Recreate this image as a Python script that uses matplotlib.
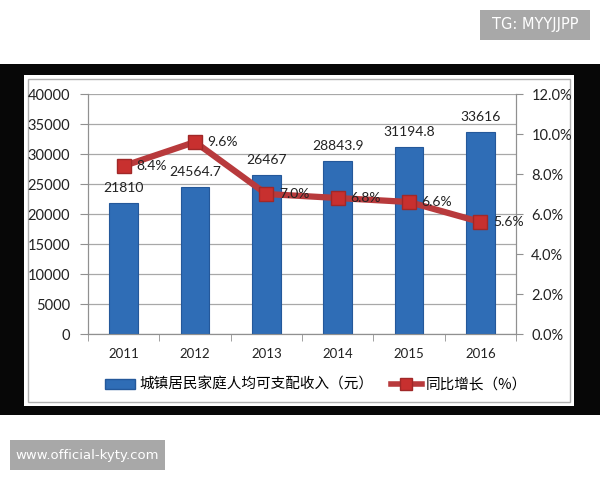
import matplotlib.pyplot as plt
from matplotlib.patches import Rectangle, Patch
from matplotlib.lines import Line2D

plt.rcParams['font.family'] = ['Lato', 'Noto Sans CJK SC', 'DejaVu Sans']

years = ['2011', '2012', '2013', '2014', '2015', '2016']
income = [21810, 24564.7, 26467, 28843.9, 31194.8, 33616]
income_labels = ['21810', '24564.7', '26467', '28843.9', '31194.8', '33616']
growth = [8.4, 9.6, 7.0, 6.8, 6.6, 5.6]

W, H = 600, 480
fig = plt.figure(figsize=(6, 4.8), dpi=100)
fig.patch.set_facecolor('white')


def box(x0, y0, x1, y1, z=-10, **kw):
    # pixel coords from top-left
    r = Rectangle((x0 / W, 1 - y1 / H), (x1 - x0) / W, (y1 - y0) / H,
                  transform=fig.transFigure, zorder=z, **kw)
    fig.patches.append(r)


# black band + white chart panel
box(0, 64, 600, 415, z=-10, facecolor='#070707', edgecolor='none')
box(24, 75, 574, 406, z=-9, facecolor='white', edgecolor='none')
box(28, 79, 570, 402, z=-8, facecolor='none', edgecolor='#b0b0b0', lw=1)

# watermark boxes
box(480, 10, 590, 40, facecolor='#a8a8a8', edgecolor='none')
fig.text(535 / W, 1 - 25 / H, 'TG: MYYJJPP', color='white', fontsize=10.5,
         ha='center', va='center', family='DejaVu Sans')
box(10, 440, 165, 470, facecolor='#a8a8a8', edgecolor='none')
fig.text(87 / W, 1 - 455 / H, 'www.official-kyty.com', color='white', fontsize=9.5,
         ha='center', va='center', family='DejaVu Sans')

ax = fig.add_axes([88 / W, 1 - 334 / H, (516 - 88) / W, 240 / H])
ax.set_facecolor('white')
x = list(range(len(years)))

bars = ax.bar(x, income, width=0.4, color='#2f6db6', edgecolor='#24589a', lw=0.8, zorder=3)
for xi, v, lab in zip(x, income, income_labels):
    ax.text(xi, v + 1500, lab, ha='center', va='bottom', fontsize=10, color='#222222', zorder=5)

ax.set_xlim(-0.5, 5.5)
ax.set_ylim(0, 40000)
ax.set_yticks(range(0, 40001, 5000))
ax.set_xticks(x)
ax.set_xticklabels(years, fontsize=9.5, color='#222222')
ax.set_xticks([i + 0.5 for i in range(-1, 6)], minor=True)
ax.tick_params(axis='x', which='major', length=0, pad=10)
ax.tick_params(axis='x', which='minor', length=5, color='#909090', direction='out')
ax.tick_params(axis='y', length=6, color='#909090', labelsize=10.5, labelcolor='#222222', pad=7)
ax.grid(axis='y', color='#a8a8a8', lw=0.9, zorder=0)
for s in ['left', 'bottom', 'right']:
    ax.spines[s].set_color('#909090')
ax.spines['top'].set_visible(False)

ax2 = ax.twinx()
ax2.plot(x, growth, color='#b83a3c', lw=4.5, marker='s', markersize=10,
         markerfacecolor='#c8302f', markeredgecolor='#a02828', zorder=4)
for xi, g in zip(x, growth):
    ax2.annotate(f'{g:.1f}%', (xi, g), xytext=(9, 0), textcoords='offset points',
                 ha='left', va='center', fontsize=10, color='#222222', zorder=6)
ax2.set_ylim(0, 12)
ax2.set_yticks(range(0, 13, 2))
ax2.set_yticklabels([f'{v:.1f}%' for v in range(0, 13, 2)])
ax2.tick_params(axis='y', length=5, color='#909090', labelsize=10.5, labelcolor='#222222', pad=6)
for s in ['left', 'bottom', 'right']:
    ax2.spines[s].set_color('#909090')
ax2.spines['top'].set_visible(False)

handles = [Patch(facecolor='#2f6db6', edgecolor='#24589a'),
           Line2D([], [], color='#b83a3c', lw=4, marker='s', markersize=8,
                  markerfacecolor='#c8302f', markeredgecolor='#a02828')]
fig.legend(handles, ['城镇居民家庭人均可支配收入（元）', '同比增长（%）'],
           loc='center', bbox_to_anchor=(316 / W, 1 - 385 / H), ncol=2, frameon=False,
           handlelength=2.1, handleheight=0.6, columnspacing=1.2,
           handletextpad=0.3, prop={'family': ['Noto Sans CJK SC', 'DejaVu Sans'], 'size': 10.5})

fig.savefig('out.png', dpi=100)
